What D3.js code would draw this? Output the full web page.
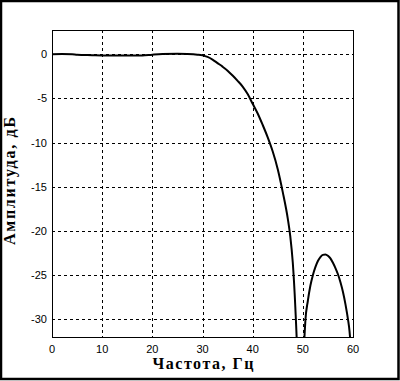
<!DOCTYPE html>
<html>
<head>
<meta charset="utf-8">
<script src="https://cdn.jsdelivr.net/npm/d3@7"></script>
<style>
  body { margin: 0; background: #fff; }
  svg { display: block; }
</style>
</head>
<body>
<div id="chart"></div>
<script>
// frequency response
const freq = [0, 2, 4, 5, 8, 10, 15, 18, 20, 22, 25, 27, 29, 30, 31, 32, 33, 34, 35, 36, 37, 38, 39, 40,
  41, 42, 43, 44, 45, 46, 47, 47.5, 48, 48.5, 49, 49.5, 50, 50.25, 50.5, 51, 51.5, 52, 52.5, 53, 53.5,
  54, 54.5, 55, 55.5, 56, 56.5, 57, 57.5, 58, 58.5, 59, 59.3, 59.6];
const ampl = [0.0, 0.02, 0.0, -0.05, -0.1, -0.13, -0.15, -0.14, -0.05, 0.02, 0.05, 0.03, -0.04, -0.12,
  -0.3, -0.6, -1.0, -1.4, -1.85, -2.4, -3.0, -3.65, -4.5, -5.6,
  -6.7, -8.0, -9.4, -11.0, -13.0, -15.6, -18.6, -20.6, -23.6, -28.6, -36, -50, -38, -33, -30.2, -27.9,
  -26.2, -25.0, -24.1, -23.4, -22.95, -22.7, -22.65, -22.8, -23.1, -23.6, -24.2, -24.9, -25.8, -26.9,
  -28.3, -30.0, -31.3, -33.5];

const xTicks = [0, 10, 20, 30, 40, 50, 60];
const yTicks = [0, -5, -10, -15, -20, -25, -30];

const width = 400, height = 381;
const plot = { left: 52, right: 353, top: 30, bottom: 337 };

const svg = d3.select('#chart').append('svg')
  .attr('width', width)
  .attr('height', height);

// outer frame
svg.append('rect')
  .attr('x', 1).attr('y', 1)
  .attr('width', width - 2.5).attr('height', height - 3)
  .attr('fill', 'none')
  .attr('stroke', '#000')
  .attr('stroke-width', 2.5);

const x = d3.scaleLinear().domain([0, 60]).range([plot.left, plot.right]);
const y = d3.scaleLinear().domain([-32, 2.75]).range([plot.bottom, plot.top]);

// grid
svg.selectAll('.vgrid')
  .data(xTicks.filter(d => d > 0 && d < 60))
  .enter().append('line')
  .attr('class', 'vgrid')
  .attr('x1', d => Math.round(x(d)) + 0.5).attr('x2', d => Math.round(x(d)) + 0.5)
  .attr('y1', plot.top).attr('y2', plot.bottom)
  .attr('stroke', '#000').attr('stroke-width', 1)
  .attr('stroke-dasharray', '3,3');

svg.selectAll('.hgrid')
  .data(yTicks)
  .enter().append('line')
  .attr('class', 'hgrid')
  .attr('x1', plot.left).attr('x2', plot.right)
  .attr('y1', d => Math.round(y(d)) + 0.5).attr('y2', d => Math.round(y(d)) + 0.5)
  .attr('stroke', '#000').attr('stroke-width', 1)
  .attr('stroke-dasharray', '3,3');

// plot frame
svg.append('rect')
  .attr('x', plot.left + 0.5).attr('y', plot.top + 0.5)
  .attr('width', plot.right - plot.left).attr('height', plot.bottom - plot.top)
  .attr('fill', 'none').attr('stroke', '#000').attr('stroke-width', 1);

// tick labels
svg.selectAll('.xlab')
  .data(xTicks)
  .enter().append('text')
  .attr('class', 'xlab')
  .attr('x', d => x(d))
  .attr('y', 353)
  .attr('text-anchor', 'middle')
  .attr('font-family', 'Liberation Sans, Arial, sans-serif')
  .attr('font-size', 11)
  .text(d => d);

svg.selectAll('.ylab')
  .data(yTicks)
  .enter().append('text')
  .attr('class', 'ylab')
  .attr('x', 47)
  .attr('y', d => y(d) + 4)
  .attr('text-anchor', 'end')
  .attr('font-family', 'Liberation Sans, Arial, sans-serif')
  .attr('font-size', 11)
  .text(d => d);

// axis titles
svg.append('text')
  .attr('x', 203).attr('y', 369)
  .attr('text-anchor', 'middle')
  .attr('font-family', 'Liberation Serif, Times New Roman, serif')
  .attr('font-weight', 'bold')
  .attr('font-size', 16)
  .attr('textLength', 101)
  .attr('lengthAdjust', 'spacing')
  .text('Частота, Гц');

svg.append('text')
  .attr('transform', 'translate(15,181) rotate(-90)')
  .attr('text-anchor', 'middle')
  .attr('font-family', 'Liberation Serif, Times New Roman, serif')
  .attr('font-weight', 'bold')
  .attr('font-size', 16)
  .attr('textLength', 128)
  .attr('lengthAdjust', 'spacing')
  .text('Амплитуда, дБ');

// curve
svg.append('clipPath').attr('id', 'clip')
  .append('rect')
  .attr('x', plot.left).attr('y', plot.top)
  .attr('width', plot.right - plot.left).attr('height', plot.bottom - plot.top);

const line = d3.line()
  .x((d, i) => x(freq[i]))
  .y(d => y(d))
  .curve(d3.curveMonotoneX);

svg.append('path')
  .datum(ampl)
  .attr('clip-path', 'url(#clip)')
  .attr('d', line)
  .attr('fill', 'none')
  .attr('stroke', '#000')
  .attr('stroke-width', 2);
</script>
</body>
</html>
